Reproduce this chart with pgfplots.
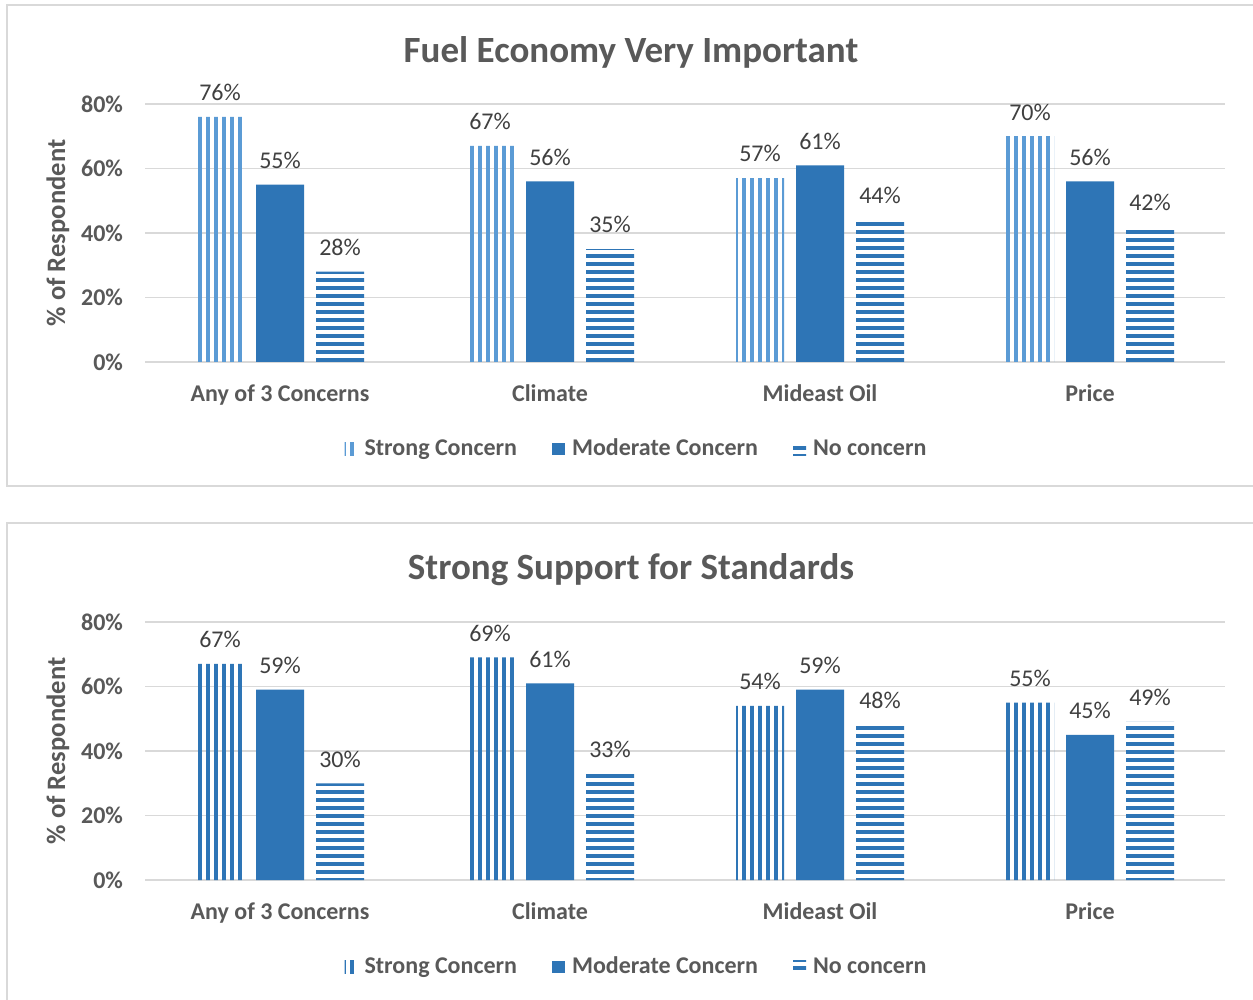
\documentclass[border=0pt]{standalone}
\usepackage{pgfplots}
\pgfplotsset{compat=1.18}
\usepackage{fontspec}
\setmainfont{Carlito}
\usetikzlibrary{patterns.meta}
\definecolor{lblue}{HTML}{5B9BD5}
\definecolor{dblue}{HTML}{2E75B6}
\definecolor{txt}{HTML}{595959}
\definecolor{lbl}{HTML}{404040}
\definecolor{grd}{HTML}{D9D9D9}

\pgfplotsset{
 lg/.style={legend image code/.code={\path[##1, draw=none] (0bp,-3.2bp) rectangle (6.5bp,3.2bp);}},
 panel/.style={
  /pgf/number format/assume math mode=true,
  ybar=6bp, bar width=24bp,
  scale only axis, width=540bp, height=129bp,
  xmin=-0.5, xmax=3.5, ymin=0, ymax=80,
  xtick={0,1,2,3}, xticklabels={Any of 3 Concerns,Climate,Mideast Oil,Price},
  ytick={0,20,40,60,80}, yticklabels={0\%,20\%,40\%,60\%,80\%},
  ymajorgrids, grid style={grd, line width=0.75bp},
  axis line style={draw=none},
  major tick length=0pt,
  tick label style={font=\fontsize{12bp}{14bp}\selectfont\bfseries, text=txt},
  xticklabel style={yshift=-8bp},
  yticklabel style={xshift=-7.5bp},
  ylabel={\% of Respondent},
  every axis y label/.style={at={(axis description cs:-0.0806,0.5)}, rotate=90, anchor=center,
     font=\fontsize{13.3bp}{15bp}\selectfont\bfseries, text=txt},
  clip=false,
  nodes near coords={\pgfmathprintnumber[assume math mode=true]{\pgfplotspointmeta}\%},
  every node near coord/.append style={font=\fontsize{12bp}{14bp}\selectfont, text=lbl, anchor=south, yshift=4.5bp},
  legend columns=3,
  legend style={at={(0.456,-0.337)}, anchor=center, draw=none, fill=none,
     font=\fontsize{12bp}{14bp}\selectfont\bfseries, text=txt,
     /tikz/every odd column/.append style={column sep=1.5bp},
     /tikz/every even column/.append style={column sep=15.5bp}},
 }
}

\begin{document}
\begin{tikzpicture}
\useasboundingbox (0,0) rectangle (626.5bp,500bp);
\fill[white] (0,0) rectangle (626.5bp,500bp);
\draw[grd, line width=0.9bp] (3.5bp,257bp) rectangle (640bp,497.5bp);
\draw[grd, line width=0.9bp] (3.5bp,-10bp) rectangle (640bp,238.5bp);
\node[font=\fontsize{18.5bp}{22bp}\selectfont\bfseries, text=txt] at (315.5bp,474bp) {Fuel Economy Very Important};
\node[font=\fontsize{18.5bp}{22bp}\selectfont\bfseries, text=txt] at (315.5bp,215bp) {Strong Support for Standards};

\begin{axis}[panel, at={(72.5bp,319bp)}, anchor=south west]
\addplot[draw=none, pattern={Lines[angle=90,distance=4bp,line width=1.75bp]}, pattern color=lblue, lg] coordinates {(0,76)(1,67)(2,57)(3,70)};
\addplot[draw=none, fill=dblue, lg] coordinates {(0,55)(1,56)(2,61)(3,56)};
\addplot[draw=none, pattern={Lines[angle=0,distance=4bp,line width=2bp]}, pattern color=dblue, lg] coordinates {(0,28)(1,35)(2,44)(3,42)};
\legend{Strong Concern, Moderate Concern, No concern}
\end{axis}

\begin{axis}[panel, at={(72.5bp,60bp)}, anchor=south west]
\addplot[draw=none, pattern={Lines[angle=90,distance=4bp,line width=1.75bp]}, pattern color=dblue, lg] coordinates {(0,67)(1,69)(2,54)(3,55)};
\addplot[draw=none, fill=dblue, lg] coordinates {(0,59)(1,61)(2,59)(3,45)};
\addplot[draw=none, pattern={Lines[angle=0,distance=4bp,line width=2bp]}, pattern color=dblue, lg] coordinates {(0,30)(1,33)(2,48)(3,49)};
\legend{Strong Concern, Moderate Concern, No concern}
\end{axis}
\end{tikzpicture}
\end{document}
